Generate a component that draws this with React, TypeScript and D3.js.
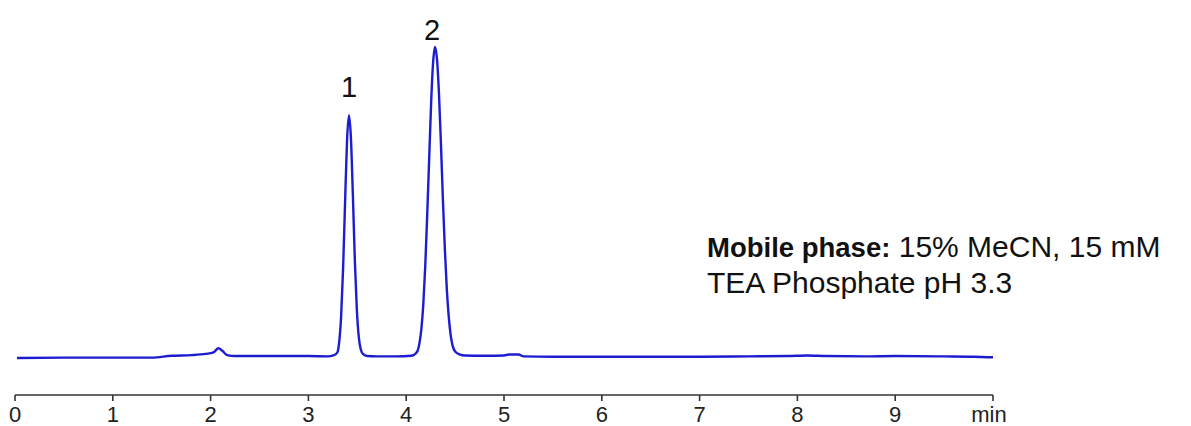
import React from "react";
import * as d3 from "d3";

const times = [
  0.02, 0.5, 1.0, 1.4, 1.6, 1.8, 1.95, 2.03, 2.08, 2.12, 2.17, 2.25, 2.5, 2.8, 3.0, 3.2, 3.255,
  3.295, 3.315, 3.335, 3.355, 3.375, 3.395, 3.415, 3.435, 3.455, 3.475, 3.495, 3.515, 3.535, 3.56, 3.6,
  3.7, 3.9, 4.05, 4.075, 4.115, 4.135, 4.155, 4.175, 4.195, 4.215, 4.235, 4.255, 4.275, 4.295,
  4.315, 4.335, 4.355, 4.375, 4.395, 4.415, 4.435, 4.455, 4.475, 4.5, 4.55, 4.6, 4.8, 5.0, 5.05,
  5.15, 5.2, 5.5, 6.0, 6.5, 7.0, 7.5, 7.9, 8.1, 8.3, 8.7, 9.0, 9.5, 9.8, 10.0,
];
const signal = [
  -0.3, -0.2, -0.2, -0.2, 0.4, 0.6, 1.0, 1.5, 2.8, 2.0, 0.6, 0.3, 0.3, 0.3, 0.3, 0.2, 0.5,
  1.4, 4.9, 13.3, 28.8, 50, 69.8, 78, 70.5, 52, 31, 15.5, 6.5, 2.5, 0.9, 0.3,
  0.2, 0.2, 0.4, 0.6, 1.9, 4.4, 9, 17, 29.5, 46, 64, 82, 95, 100,
  96, 85, 69, 51, 35, 22, 13, 7, 3.6, 1.8, 0.8, 0.5, 0.4, 0.5, 0.8,
  0.8, 0.2, 0.1, 0.1, 0.1, 0.1, 0.2, 0.3, 0.5, 0.3, 0.2, 0.3, 0.2, 0.1, -0.1,
];
const tickValues = [0, 1, 2, 3, 4, 5, 6, 7, 8, 9];
const axisUnit = "min";
const peakTimes = [3.415, 4.295];
const peakHeights = [78, 100];
const peakLabels = ["1", "2"];
const noteBold = "Mobile phase:";
const noteRest = " 15% MeCN, 15 mM";
const noteLine2 = "TEA Phosphate pH 3.3";

export default function App() {
  const W = 1191;
  const H = 426;
  const x = d3.scaleLinear().domain([0, 10]).range([15, 993]);
  const y = d3.scaleLinear().domain([0, 100]).range([357, 47]);
  const data = times.map((t, i) => [t, signal[i]] as [number, number]);
  const line = d3
    .line<[number, number]>()
    .x((d) => x(d[0]))
    .y((d) => y(d[1]))
    .curve(d3.curveMonotoneX);
  const axisY = 395;
  const labelDy = [18, 7];
  const labelDx = [0, -3];
  const font = "'Liberation Sans', Arial, sans-serif";
  return (
    <svg
      width={W}
      height={H}
      style={{ position: "absolute", left: 0, top: 0, background: "#fff" }}
      fontFamily={font}
    >
      <rect width={W} height={H} fill="#fff" />
      <path d={line(data) || ""} fill="none" stroke="#1c1cd0" strokeWidth={2.4} strokeLinejoin="round" />
      <line x1={x(0)} x2={x(10)} y1={axisY} y2={axisY} stroke="#333" strokeWidth={1.6} />
      {[...tickValues, 10].map((v) => (
        <line key={v} x1={x(v)} x2={x(v)} y1={axisY} y2={axisY + 6} stroke="#333" strokeWidth={1.6} />
      ))}
      {tickValues.map((v) => (
        <text key={v} x={x(v)} y={422} textAnchor="middle" fontSize={22} fill="#222">
          {v}
        </text>
      ))}
      <text x={x(10) - 4} y={422} textAnchor="middle" fontSize={22} fill="#222">
        {axisUnit}
      </text>
      {peakLabels.map((l, i) => (
        <text
          key={l}
          x={x(peakTimes[i]) + labelDx[i]}
          y={y(peakHeights[i]) - labelDy[i]}
          textAnchor="middle"
          fontSize={29}
          fill="#111"
        >
          {l}
        </text>
      ))}
      <text x={707} y={257} fill="#111">
        <tspan fontWeight="bold" fontSize={27.5}>{noteBold}</tspan>
        <tspan fontSize={30}>{noteRest}</tspan>
      </text>
      <text x={707} y={293} fontSize={30} fill="#111">
        {noteLine2}
      </text>
    </svg>
  );
}
